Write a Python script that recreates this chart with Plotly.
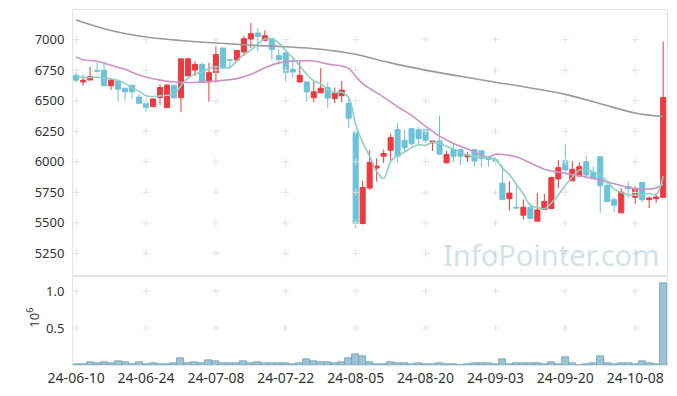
import plotly.graph_objects as go
from plotly.subplots import make_subplots

dates = ["24-06-10","24-06-11","24-06-12","24-06-13","24-06-14","24-06-17","24-06-18","24-06-19","24-06-20","24-06-21",
         "24-06-24","24-06-25","24-06-26","24-06-27","24-06-28","24-07-01","24-07-02","24-07-03","24-07-04","24-07-05",
         "24-07-08","24-07-09","24-07-10","24-07-11","24-07-12","24-07-15","24-07-16","24-07-17","24-07-18","24-07-19",
         "24-07-22","24-07-23","24-07-24","24-07-25","24-07-26","24-07-29","24-07-30","24-07-31","24-08-01","24-08-02",
         "24-08-05","24-08-06","24-08-07","24-08-08","24-08-09","24-08-12","24-08-13","24-08-14","24-08-16","24-08-19",
         "24-08-20","24-08-21","24-08-22","24-08-23","24-08-26","24-08-27","24-08-28","24-08-29","24-08-30","24-09-02",
         "24-09-03","24-09-04","24-09-05","24-09-06","24-09-09","24-09-10","24-09-11","24-09-12","24-09-13","24-09-19",
         "24-09-20","24-09-23","24-09-24","24-09-25","24-09-26","24-09-27","24-09-30","24-10-02","24-10-04","24-10-07",
         "24-10-08","24-10-10","24-10-11","24-10-14","24-10-15"]

opens = [6708,6654,6670,6746,6749,6622,6662,6603,6627,6530,
         6479,6452,6527,6444,6627,6525,6703,6751,6797,6654,
         6730,6932,6838,6833,6900,7005,7054,6995,7008,6870,
         6892,6757,6654,6654,6525,6565,6608,6519,6541,6479,
         6238,5495,5785,5949,6046,6095,6263,6176,6271,6263,
         6263,6155,6171,5992,6100,6100,6041,6100,6090,6036,
         6019,5825,5698,5628,5563,5628,5514,5609,5617,5860,
         6009,5844,5884,6001,5914,6041,5806,5690,5582,5798,
         5709,5830,5690,5698,5709]
highs = [6735,6708,6778,6816,6824,6681,6662,6603,6627,6554,
         6479,6519,6635,6635,6627,6843,6851,6824,6811,6811,
         6946,6932,6843,6911,7032,7135,7094,7076,7008,6919,
         6892,6838,6816,6654,6654,6770,6649,6608,6662,6527,
         6238,5845,6095,6028,6100,6230,6317,6263,6271,6284,
         6263,6171,6379,6090,6149,6100,6082,6100,6090,6046,
         6036,5970,5839,5812,5690,5663,5744,5736,5879,6014,
         6149,6006,5995,6049,5960,6041,5825,5703,5784,5839,
         5798,5830,5717,5744,6986]
lows = [6649,6622,6670,6740,6622,6587,6492,6500,6514,6479,
        6411,6452,6465,6444,6514,6406,6703,6703,6649,6492,
        6649,6760,6757,6824,6865,6932,6905,6986,6838,6797,
        6657,6689,6649,6492,6487,6565,6438,6481,6487,6276,
        5455,5487,5771,5839,5992,6014,5992,6082,6128,6149,
        6155,6090,6055,5987,6000,5974,6000,5960,5960,5960,
        5974,5690,5601,5622,5528,5528,5514,5609,5617,5784,
        5914,5844,5879,5860,5860,5582,5676,5590,5582,5703,
        5655,5671,5622,5663,5709]
closes = [6668,6668,6697,6743,6622,6668,6595,6573,6573,6479,
          6446,6514,6608,6627,6525,6843,6843,6797,6649,6730,
          6878,6770,6833,6911,7008,7049,7027,7032,6919,6838,
          6730,6735,6708,6573,6573,6603,6522,6562,6587,6357,
          5495,5790,5995,5965,6068,6198,6046,6117,6149,6190,
          6176,6171,6063,6060,6046,6046,6055,6006,6028,6019,
          6001,5690,5744,5622,5628,5536,5606,5676,5871,5952,
          5933,5938,5960,5893,5860,5806,5676,5644,5752,5779,
          5776,5690,5703,5712,6527]
volumes = [8000,14000,32000,18000,32000,18000,46000,32000,5000,32000,
           5000,18000,5000,5000,18000,88000,18000,32000,18000,60000,
           46000,18000,18000,18000,46000,18000,32000,18000,18000,18000,
           18000,5000,18000,74000,46000,32000,32000,18000,32000,88000,
           143000,115000,32000,5000,5000,32000,18000,18000,5000,18000,
           5000,5000,18000,5000,5000,1500,5000,18000,18000,18000,
           5000,74000,5000,18000,18000,18000,18000,5000,32000,5000,
           100000,18000,1500,5000,18000,115000,18000,5000,18000,18000,
           5000,46000,18000,5000,1110000]

ma5 = [6703,6690,6690,6692,6685,6680,6665,6640,6606,6578,
       6540,6535,6540,6545,6550,6623,6685,6720,6732,6765,
       6780,6768,6775,6824,6880,6914,6966,7005,7007,6973,
       6909,6851,6786,6717,6664,6638,6596,6567,6569,6526,
       6305,6158,6045,5920,5863,6003,6054,6079,6116,6140,
       6136,6161,6150,6128,6103,6077,6054,6043,6036,6031,
       6022,5949,5896,5815,5737,5644,5627,5614,5663,5728,
       5808,5874,5931,5935,5917,5891,5839,5776,5748,5731,
       5725,5728,5740,5732,5882]

ma20_dates = ["24-06-10","24-06-11","24-06-13","24-06-17","24-06-19","24-06-21","24-06-25","24-06-27",
              "24-07-01","24-07-04","24-07-08","24-07-11","24-07-15","24-07-17","24-07-19","24-07-23",
              "24-07-26","24-07-30","24-08-01","24-08-02","24-08-05","24-08-06","24-08-07","24-08-09",
              "24-08-13","24-08-16","24-08-20","24-08-22","24-08-26","24-08-28","24-08-30","24-09-02",
              "24-09-03","24-09-04","24-09-06","24-09-10","24-09-12","24-09-20","24-09-25","24-09-27",
              "24-10-02","24-10-07","24-10-10","24-10-14","24-10-15"]
ma20 = [6859,6835,6824,6790,6757,6710,6680,6660,
        6650,6654,6662,6681,6716,6770,6810,6824,
        6826,6800,6784,6765,6700,6640,6600,6530,
        6450,6380,6290,6210,6150,6105,6055,6040,
        6062,6060,6041,5990,5940,5905,5875,5850,
        5820,5790,5776,5785,5820]

ma120_dates = ["24-06-10","24-06-17","24-06-24","24-07-01","24-07-08","24-07-15","24-07-22","24-07-29",
               "24-08-01","24-08-05","24-08-12","24-08-20","24-08-27","24-09-03","24-09-10","24-09-20",
               "24-09-27","24-10-08","24-10-15"]
ma120 = [7162,7075,7022,6993,6973,6955,6942,6922,
         6900,6880,6810,6751,6700,6652,6605,6552,
         6475,6400,6370]

price_ticks = [5250, 5500, 5750, 6000, 6250, 6500, 6750, 7000]
vol_ticks = [500000, 1000000]
vol_tick_text = ["0.5", "1.0"]
x_tick_dates = dates[::10]

RED = "#ec3a3f"
BLUE = "#6bc2d9"
FONT = "Noto Sans"
CROSS = "#e2e2e2"

fig = make_subplots(rows=2, cols=1, shared_xaxes=True, vertical_spacing=0,
                    row_heights=[0.75, 0.25])

# grid crosses
cx, cy = [], []
for d in x_tick_dates:
    for v in price_ticks:
        cx.append(d); cy.append(v)
fig.add_trace(go.Scatter(x=cx, y=cy, mode="markers", hoverinfo="skip",
                         marker=dict(symbol="cross-thin", size=5,
                                     line=dict(color=CROSS, width=1)),
                         showlegend=False), row=1, col=1)
vx, vy = [], []
for d in x_tick_dates:
    for v in vol_ticks:
        vx.append(d); vy.append(v)
fig.add_trace(go.Scatter(x=vx, y=vy, mode="markers", hoverinfo="skip",
                         marker=dict(symbol="cross-thin", size=5,
                                     line=dict(color=CROSS, width=1)),
                         showlegend=False), row=2, col=1)

fig.add_trace(go.Scatter(x=ma120_dates, y=ma120, mode="lines",
                         line=dict(color="#9a9a9a", width=1.6, shape="spline"),
                         showlegend=False), row=1, col=1)
fig.add_trace(go.Scatter(x=ma20_dates, y=ma20, mode="lines",
                         line=dict(color="#cc92c8", width=1.6, shape="spline"),
                         showlegend=False), row=1, col=1)

fig.add_trace(go.Candlestick(x=dates, open=opens, high=highs, low=lows, close=closes,
                             increasing=dict(line=dict(color=RED, width=1), fillcolor=RED),
                             decreasing=dict(line=dict(color=BLUE, width=1), fillcolor=BLUE),
                             whiskerwidth=0, showlegend=False), row=1, col=1)

fig.add_trace(go.Scatter(x=dates, y=ma5, mode="lines",
                         line=dict(color="#8dcfc4", width=1.6, shape="spline"),
                         showlegend=False), row=1, col=1)

fig.add_trace(go.Bar(x=dates, y=volumes, marker=dict(color="#9cc4d5",
                     line=dict(color="#6f9fb5", width=0.8)),
                     width=1.0, showlegend=False), row=2, col=1)

axis_common = dict(showline=True, linecolor="#e4e4e4", linewidth=1, mirror=True,
                   showgrid=False, zeroline=False)

fig.update_xaxes(type="category", categoryorder="array", categoryarray=dates,
                 range=[-0.45, 84.55], rangeslider_visible=False,
                 **axis_common)
fig.update_xaxes(tickmode="array", tickvals=x_tick_dates, ticktext=x_tick_dates,
                 ticks="", tickangle=0,
                 tickfont=dict(size=14, color="#333333", family=FONT),
                 row=2, col=1)
fig.update_xaxes(showticklabels=False, ticks="", row=1, col=1)

fig.update_yaxes(range=[5063, 7243], tickmode="array", tickvals=price_ticks,
                 ticks="outside", ticklen=5, tickcolor="rgba(0,0,0,0)",
                 tickfont=dict(size=13, color="#333333", family=FONT),
                 **axis_common, row=1, col=1)
fig.update_yaxes(range=[0, 1200000], tickmode="array", tickvals=vol_ticks,
                 ticktext=vol_tick_text, ticks="outside", ticklen=5,
                 tickcolor="rgba(0,0,0,0)",
                 tickfont=dict(size=13, color="#333333", family=FONT),
                 **axis_common, row=2, col=1)

fig.add_annotation(text="10<sup>6</sup>", xref="paper", yref="paper",
                   x=-0.068, y=0.132, xanchor="center", yanchor="middle",
                   textangle=-90, showarrow=False,
                   font=dict(size=13, color="#333333", family=FONT))
fig.add_annotation(text="InfoPointer.com", xref="paper", yref="paper",
                   x=0.804, y=0.311, xanchor="center", yanchor="middle",
                   showarrow=False,
                   font=dict(size=29, color="rgba(165,197,213,0.5)", family=FONT))

fig.update_layout(width=677, height=396, margin=dict(l=73, r=9, t=10, b=29),
                  paper_bgcolor="white", plot_bgcolor="white", bargap=0,
                  boxgap=0.15, boxgroupgap=0.15,
                  font=dict(family=FONT, color="#333333"))

fig.write_html("out.html", config={"displayModeBar": False},
               post_script="document.body.style.margin='0px';")
